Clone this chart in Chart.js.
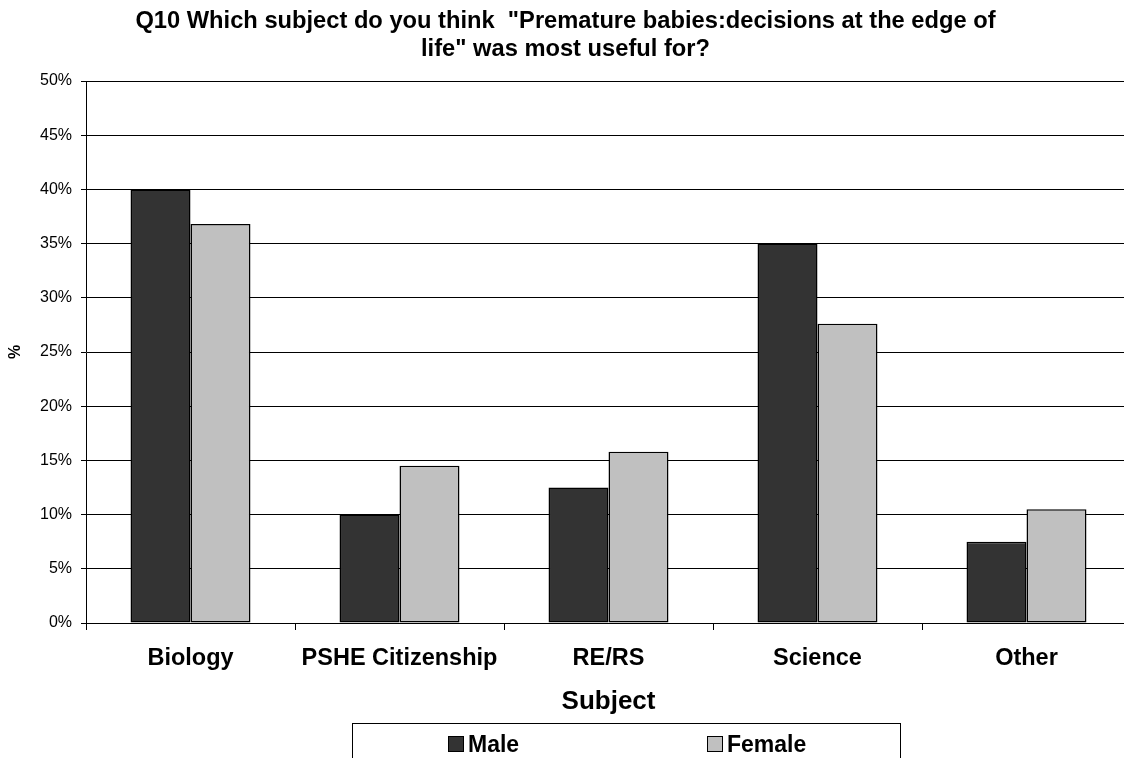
<!DOCTYPE html>
<html>
<head>
<meta charset="utf-8">
<script src="https://cdn.jsdelivr.net/npm/chart.js@4/dist/chart.umd.min.js"></script>
<style>
  html, body { margin: 0; padding: 0; background: #fff; overflow: hidden; }
  #wrap { width: 1124px; height: 758px; overflow: hidden; }
</style>
</head>
<body>
<div id="wrap"><canvas id="chart" width="1132" height="758"></canvas></div>
<script>
const categories = ['Biology', 'PSHE Citizenship', 'RE/RS', 'Science', 'Other'];
const maleValues = [40, 10, 12.5, 35, 7.5];
const femaleValues = [36.8, 14.5, 15.8, 27.6, 10.5];
const seriesNames = ['Male', 'Female'];
const yMax = 50;
const yStep = 5;
const titleLines = ['Q10 Which subject do you think  "Premature babies:decisions at the edge of', 'life" was most useful for?'];

const FONT = '"Liberation Sans", Arial, sans-serif';
Chart.defaults.font.family = FONT;
Chart.defaults.color = '#000';

// box legend under the axis title, like the spreadsheet original
const legendBox = {
  id: 'legendBox',
  afterDraw(chart) {
    const ctx = chart.ctx;
    const xs = [448, 707];
    ctx.save();
    ctx.strokeStyle = '#000';
    ctx.lineWidth = 1;
    ctx.strokeRect(352.5, 723.5, 548, 60);
    ctx.font = 'bold 23px ' + FONT;
    ctx.textBaseline = 'alphabetic';
    chart.data.datasets.forEach((ds, i) => {
      ctx.fillStyle = ds.backgroundColor;
      ctx.fillRect(xs[i], 736, 16, 16);
      ctx.strokeRect(xs[i] + 0.5, 736.5, 15, 15);
      ctx.fillStyle = '#000';
      ctx.fillText(ds.label, xs[i] + 20, 752);
    });
    ctx.restore();
  }
};

new Chart(document.getElementById('chart'), {
  type: 'bar',
  data: {
    labels: categories,
    datasets: [
      {
        label: seriesNames[0],
        data: maleValues,
        backgroundColor: '#333333',
        borderColor: '#000',
        borderWidth: 1.5,
        borderSkipped: false,
      },
      {
        label: seriesNames[1],
        data: femaleValues,
        backgroundColor: '#c0c0c0',
        borderColor: '#000',
        borderWidth: 1.5,
        borderSkipped: false,
      },
    ],
  },
  options: {
    responsive: false,
    animation: false,
    devicePixelRatio: 1,
    layout: { padding: { left: 0, right: 1, top: 0, bottom: 0 } },
    datasets: { bar: { categoryPercentage: 0.574, barPercentage: 1 } },
    plugins: {
      legend: { display: false },
      tooltip: { enabled: false },
      title: {
        display: true,
        text: titleLines,
        color: '#000',
        font: { size: 23.7, weight: 'bold', lineHeight: '28px' },
        padding: { top: 7, bottom: 18 },
      },
    },
    scales: {
      x: {
        grid: { drawOnChartArea: false, drawTicks: true, tickLength: 7, color: '#000' },
        border: { color: '#000' },
        ticks: { font: { size: 23.5, weight: 'bold' }, color: '#000', padding: 14, maxRotation: 0, autoSkip: false },
        title: {
          display: true,
          text: 'Subject',
          color: '#000',
          font: { size: 26, weight: 'bold' },
          padding: { top: 0, bottom: 41 },
        },
        afterFit(scale) { scale.height = 135; },
      },
      y: {
        min: 0,
        max: yMax,
        grid: { color: '#000', tickLength: 5 },
        border: { color: '#000' },
        ticks: {
          stepSize: yStep,
          font: { size: 16 },
          color: '#000',
          padding: 9,
          callback: (v) => v + '%',
        },
        title: {
          display: true,
          text: '%',
          color: '#000',
          font: { size: 16, weight: 'bold' },
          padding: { top: 6, bottom: 0 },
        },
        afterFit(scale) { scale.width = 86; },
      },
    },
  },
  plugins: [legendBox],
});
</script>
</body>
</html>
